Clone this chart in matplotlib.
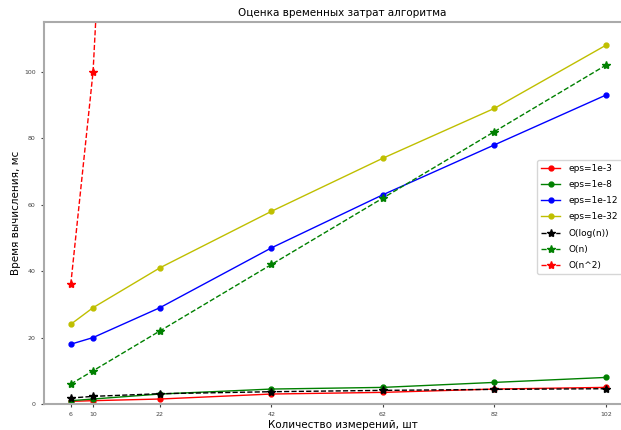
import matplotlib
matplotlib.use('Agg')
import matplotlib.pyplot as plt

n = [6, 10, 22, 42, 62, 82, 102]

eps_3 = [0.8, 1.0, 1.5, 3.0, 3.5, 4.5, 5.0]
eps_8 = [1.0, 1.5, 3.0, 4.5, 5.0, 6.5, 8.0]
eps_12 = [18, 20, 29, 47, 63, 78, 93]
eps_32 = [24, 29, 41, 58, 74, 89, 108]

o_log = [1.8, 2.3, 3.1, 3.7, 4.1, 4.4, 4.6]
o_n = [6, 10, 22, 42, 62, 82, 102]
o_n2 = [36, 100, 484, 1764, 3844, 6724, 10404]

fig = plt.figure(figsize=(6.21, 4.30), dpi=100)
# the original picture is cropped on the right, so the axes run past the edge
ax = fig.add_axes([44 / 621, 1 - 404 / 430, 597 / 621, 382 / 430])

ax.plot(n, eps_3, 'o-', color='r', ms=3.5, lw=1, label='eps=1e-3')
ax.plot(n, eps_8, 'o-', color='g', ms=3.5, lw=1, label='eps=1e-8')
ax.plot(n, eps_12, 'o-', color='b', ms=3.5, lw=1, label='eps=1e-12')
ax.plot(n, eps_32, 'o-', color='y', ms=3.5, lw=1, label='eps=1e-32')
ax.plot(n, o_log, '*--', color='k', ms=6, lw=1, label='O(log(n))')
ax.plot(n, o_n, '*--', color='g', ms=6, lw=1, label='O(n)')
ax.plot(n, o_n2, '*--', color='r', ms=6, lw=1, label='O(n^2)')

ax.set_xlim(1.2, 108.3)
ax.set_ylim(0, 115)
ax.set_xticks(n)
ax.tick_params(labelsize=4.5, length=2.5, width=0.8, colors='#444444')
for s in ax.spines.values():
    s.set_color('#aaaaaa')
    s.set_linewidth(1.5)

ax.set_title('Оценка временных затрат алгоритма', fontsize=7.5, pad=4)
ax.set_xlabel('Количество измерений, шт', fontsize=7.5, labelpad=2)
ax.set_ylabel('Время вычисления, мс', fontsize=7.5, labelpad=2)
ax.legend(loc='center left', bbox_to_anchor=(537 / 621, 1 - 217 / 430),
          bbox_transform=fig.transFigure, borderaxespad=0,
          fontsize=6.5, labelspacing=0.8, handlelength=2.2, handletextpad=0.9)

fig.savefig('out.png', dpi=100)
